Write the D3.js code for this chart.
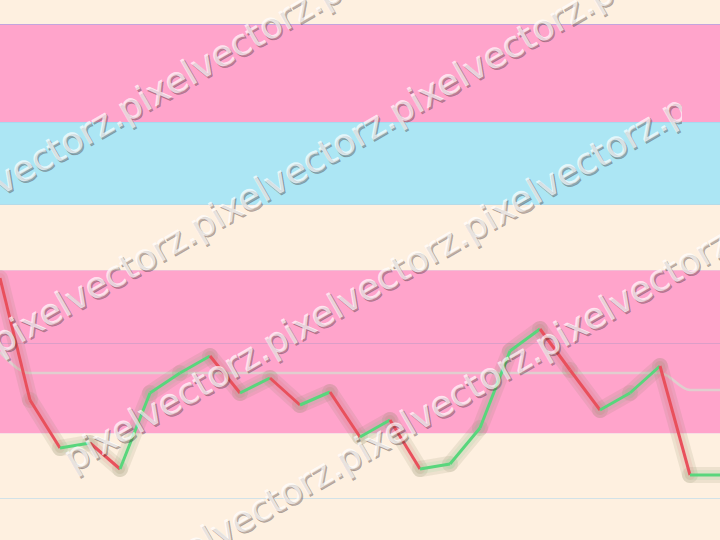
<!DOCTYPE html>
<html>
<head>
<meta charset="utf-8">
<script src="https://cdn.jsdelivr.net/npm/d3@7"></script>
<style>
  html, body { margin: 0; padding: 0; background: #fef0e0; }
  svg { display: block; }
</style>
</head>
<body>
<svg id="chart" width="720" height="540"></svg>
<script>
// ---- data ----
const steps = [0,1,2,3,4,5,6,7,8,9,10,11,12,13,14,15,16,17,18,19,20,21,22,23,24];
const priceValues = [262,140,92,97,71,147,167,184,147,162,135,148,103,120,71,76,112,189,211,170,130,147,174,65,65];
const averageValues = [188,167,167,167,167,167,167,167,167,167,167,167,167,167,167,167,167,167,167,167,167,167,167,150,150];
const bandStarts = [0,107,270,336,418,516];
const bandEnds   = [107,270,336,418,516,540];
const bandNames  = ["low","zoneA","mid","cool","zoneB","top"];
const gridValues = [42,197,516];
const watermarkText = "pixelvectorz.";
const watermarkRows = [0,1,2,3];
const watermarkRepeats = [3,4,3,4];

// ---- styles ----
const W = 720, H = 540;
const bandColors = {low:"#fef0e0", zoneA:"#ffa4cb", mid:"#fef0e0", cool:"#ace6f4", zoneB:"#ffa4cb", top:"#fef0e0"};
const gridColors = ["#d2e2e8", "#dc9ec8", "#c4a4de"];
const upColor = "#58d67c", downColor = "#e9505c";

const svg = d3.select("#chart");
const x = d3.scaleLinear().domain([0, steps.length - 1]).range([0, W]);
const y = d3.scaleLinear().domain([0, 540]).range([H, 0]);

// bands
svg.append("g").selectAll("rect").data(bandNames).join("rect")
  .attr("x", 0).attr("width", W)
  .attr("y", (d,i) => y(bandEnds[i]))
  .attr("height", (d,i) => y(bandStarts[i]) - y(bandEnds[i]))
  .attr("fill", d => bandColors[d]);

// band edge hairlines
svg.append("g").selectAll("line").data([107,270,336,418]).join("line")
  .attr("x1", 0).attr("x2", W)
  .attr("y1", d => y(d) + 0.5).attr("y2", d => y(d) + 0.5)
  .attr("stroke", (d,i) => ["#f6dce6","#f0c4d8","#a2d6ec","#a8d6ee"][i])
  .attr("stroke-width", 1).attr("opacity", 0.8);

// grid lines
svg.append("g").selectAll("line").data(gridValues).join("line")
  .attr("x1", 0).attr("x2", W)
  .attr("y1", d => Math.round(y(d)) + 0.5).attr("y2", d => Math.round(y(d)) + 0.5)
  .attr("stroke", (d,i) => gridColors[i]).attr("stroke-width", 1);

// moving average line
const avgLine = d3.line().x((d,i) => x(steps[i])).y(d => y(d)).curve(d3.curveMonotoneX);
svg.append("path").datum(averageValues)
  .attr("d", avgLine).attr("fill", "none")
  .attr("stroke", "#dcd6d0").attr("stroke-width", 2.6).attr("opacity", 0.85);

// segments
const segs = d3.range(priceValues.length - 1).map(i => ({
  x1: x(steps[i]), y1: y(priceValues[i]), x2: x(steps[i+1]), y2: y(priceValues[i+1]),
  up: priceValues[i+1] >= priceValues[i]
}));
const seg = d3.line();
const glow = svg.append("g");
glow.selectAll("path.g1").data(segs).join("path").attr("class","g1")
  .attr("d", d => seg([[d.x1,d.y1],[d.x2,d.y2]]))
  .attr("fill","none").attr("stroke","#8a8660").attr("stroke-opacity",0.14)
  .attr("stroke-width",16).attr("stroke-linecap","round");
glow.selectAll("path.g2").data(segs).join("path").attr("class","g2")
  .attr("d", d => seg([[d.x1,d.y1],[d.x2,d.y2]]))
  .attr("fill","none").attr("stroke", d => d.up ? upColor : downColor).attr("stroke-opacity",0.10)
  .attr("stroke-width",10).attr("stroke-linecap","round");
svg.append("g").selectAll("path").data(segs).join("path")
  .attr("d", d => seg([[d.x1,d.y1],[d.x2,d.y2]]))
  .attr("fill","none").attr("stroke", d => d.up ? upColor : downColor)
  .attr("stroke-width",3).attr("stroke-linecap","butt").attr("stroke-linejoin","round");

// watermark
const defs = svg.append("defs");
defs.append("clipPath").attr("id","wmclip")
  .append("rect").attr("x",-50).attr("y",-50).attr("width",732).attr("height",640);
const angle = -30, rowGap = 159, rowShift = 73;
const wm = svg.append("g").attr("pointer-events","none");
watermarkRows.forEach(r => {
  const x0 = -73 + r * rowShift;
  const y0 = 196 + r * rowGap - x0 * Math.tan(Math.PI/6);
  const txt = watermarkText.repeat(watermarkRepeats[r]) + (r === 2 ? "p" : "");
  const gRow = wm.append("g").attr("clip-path", r === 2 ? "url(#wmclip)" : null);
  [[1.6,1.8,"rgba(70,50,50,0.34)",0],[0,0,"rgba(255,255,255,0.68)",0.5]].forEach(([dx,dy,fill,sw]) => {
    gRow.append("text")
      .attr("transform", `translate(${x0+dx},${y0+dy}) rotate(${angle})`)
      .attr("font-family","DejaVu Sans").attr("font-size",36)
      .attr("fill", fill)
      .attr("stroke", sw ? "rgba(255,255,255,0.5)" : fill).attr("stroke-width", sw ? sw : 0.6)
      .text(txt);
  });
});
</script>
</body>
</html>
